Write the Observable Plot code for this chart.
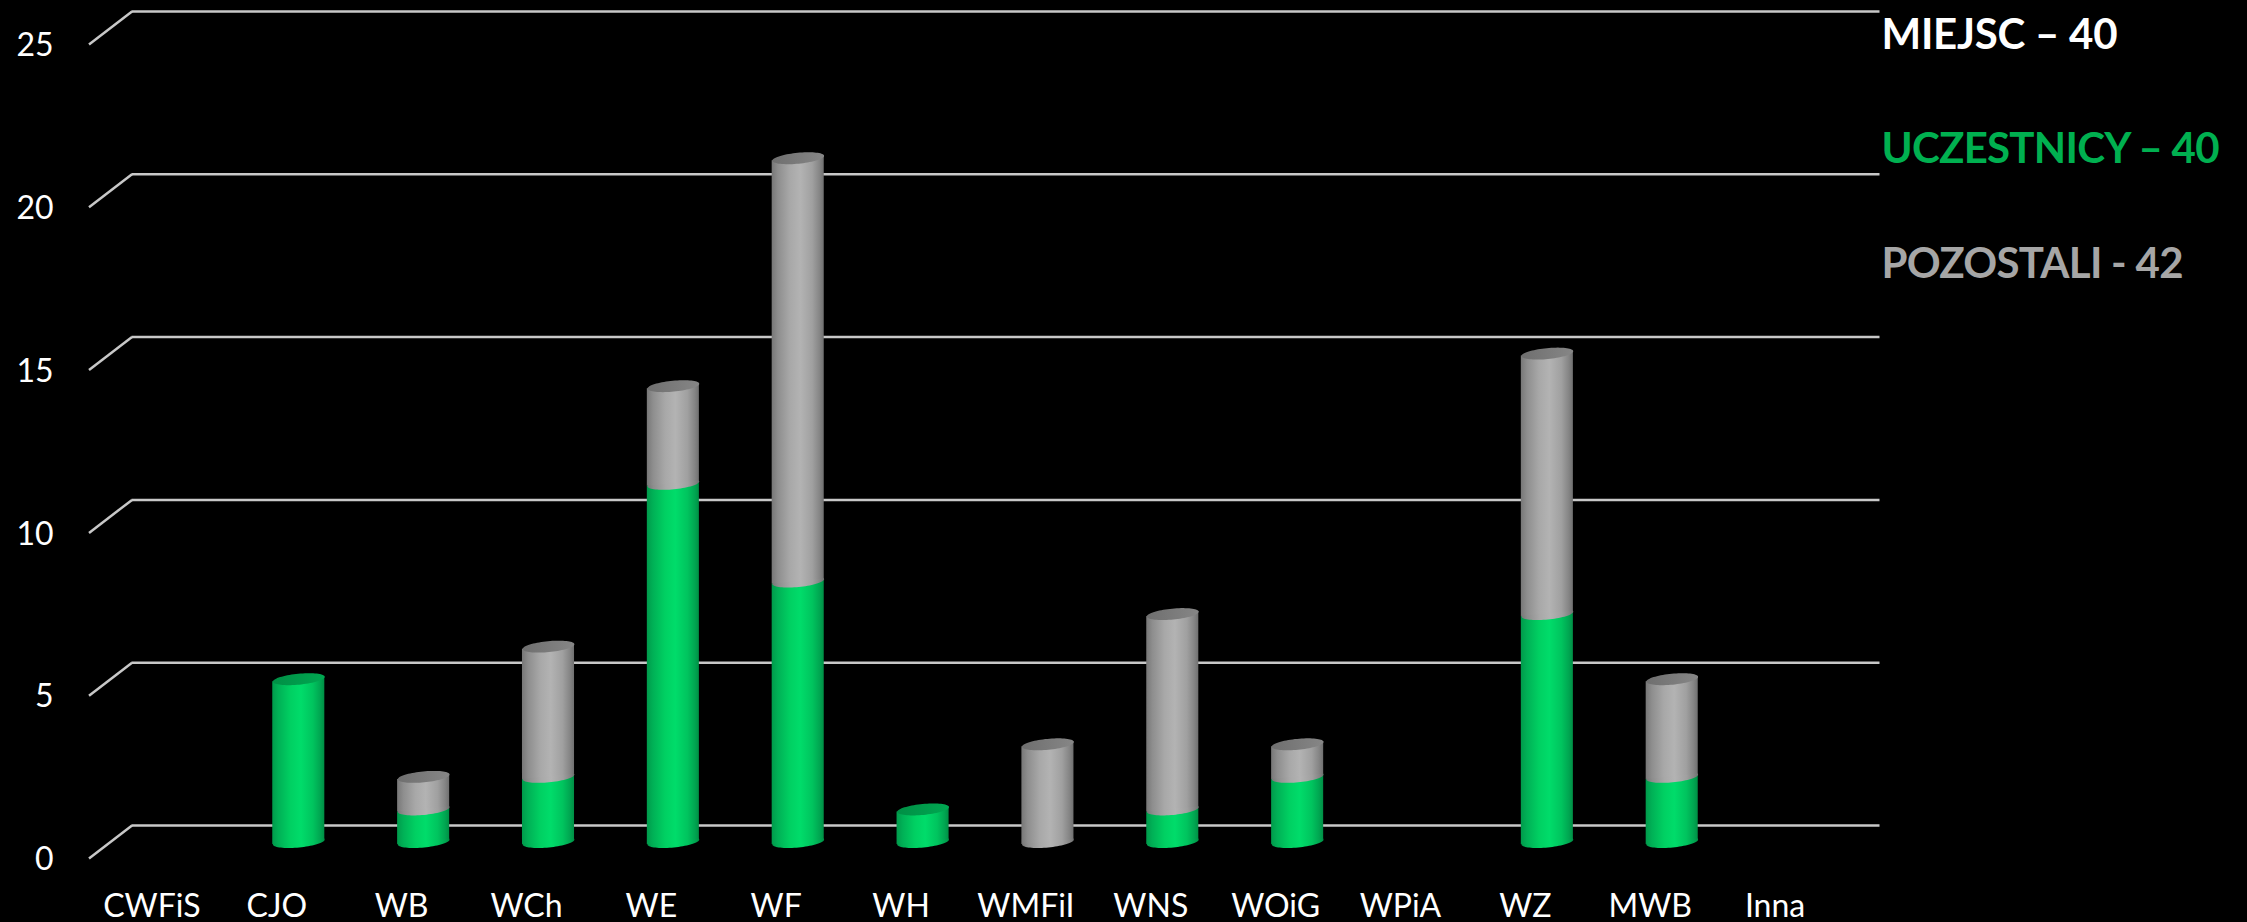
<!DOCTYPE html>
<html>
<head>
<meta charset="utf-8">
<script src="https://cdn.jsdelivr.net/npm/d3@7"></script>
<script src="https://cdn.jsdelivr.net/npm/@observablehq/plot@0.6"></script>
<style>
html,body{margin:0;padding:0;background:#000;overflow:hidden}
svg{display:block}
</style>
</head>
<body>
<div id="chart"></div>
<script>
const categories = ["CWFiS","CJO","WB","WCh","WE","WF","WH","WMFiI","WNS","WOiG","WPiA","WZ","MWB","Inna"];
const uczestnicy = [0,5,1,2,11,8,1,0,1,2,0,7,2,0];
const pozostali  = [0,0,1,4,3,13,0,3,6,1,0,8,3,0];
const yTicks = [0,5,10,15,20,25];
const legendLabels = ["MIEJSC – 40","UCZESTNICY – 40","POZOSTALI - 42"];
const legendColors = ["#ffffff","#00b050","#a6a6a6"];
const legendWidths = [236,338,302];
const FONT = "Lato, Carlito, 'Open Sans', sans-serif";

const rows = categories.map((c,i)=>({c, g:uczestnicy[i], o:pozostali[i], t:uczestnicy[i]+pozostali[i]}));
const greenRows = rows.filter(d=>d.g>0);
const greyRows = rows.filter(d=>d.o>0);
const topRows = rows.filter(d=>d.t>0);

const TILT = -5.5*Math.PI/180;
const DEPTH_X = 21.5, DEPTH_Y = 16.5;

// tilted ellipse for the cylinder faces
const ellipseSymbol = {
  draw(ctx, size){
    const rx = Math.sqrt(size/Math.PI), ry = rx*0.21, n = 72;
    for(let k=0;k<n;k++){
      const a = 2*Math.PI*k/n, ex = rx*Math.cos(a), ey = ry*Math.sin(a);
      const px = ex*Math.cos(TILT)-ey*Math.sin(TILT), py = ex*Math.sin(TILT)+ey*Math.cos(TILT);
      k ? ctx.lineTo(px,py) : ctx.moveTo(px,py);
    }
    ctx.closePath();
  }
};
// slanted side wall stroke of the 3D floor/wall grid
const sideSymbol = { draw(ctx){ ctx.moveTo(-DEPTH_X,DEPTH_Y); ctx.lineTo(DEPTH_X,-DEPTH_Y); } };

function gradientDefs(){
  const defs = d3.create("svg:defs");
  const add = (id, stops) => {
    const g = defs.append("linearGradient").attr("id",id).attr("x1",0).attr("x2",1).attr("y1",0).attr("y2",0);
    stops.forEach(([o,c])=>g.append("stop").attr("offset",o).attr("stop-color",c));
  };
  add("gGreen",[[0,"#009a4b"],[0.12,"#00b156"],[0.35,"#00d062"],[0.55,"#00dc6a"],[0.78,"#00c45e"],[0.92,"#00a651"],[1,"#008f45"]]);
  add("gGrey",[[0,"#777777"],[0.12,"#8e8e8e"],[0.35,"#a8a8a8"],[0.55,"#b3b3b3"],[0.78,"#a0a0a0"],[0.92,"#858585"],[1,"#707070"]]);
  add("capGreen",[[0,"#008f45"],[1,"#00a851"]]);
  add("capGrey",[[0,"#6f6f6f"],[1,"#868686"]]);
  return defs.node();
}

// lean each bar so its ends meet the tilted ellipses
function skewed(index, scales, values, dimensions, context, next){
  const g = next(index, scales, values, dimensions, context);
  d3.select(g).selectAll("rect")
    .style("transform-box","fill-box")
    .style("transform-origin","center")
    .style("transform",`skewY(${TILT}rad)`);
  return g;
}
const fitted = w => (index, scales, values, dimensions, context, next) => {
  const g = next(index, scales, values, dimensions, context);
  d3.select(g).selectAll("text").attr("textLength",w).attr("lengthAdjust","spacing");
  return g;
};

const segment = (data, y1, y2, fill) => [
  Plot.dot(data,{x:"c",y:y1,r:26,symbol:ellipseSymbol,fill}),
  Plot.barY(data,{x:"c",y1,y2,fill,insetLeft:36.4,insetRight:36.4,render:skewed})
];

const chart = Plot.plot({
  width:2247, height:922,
  marginLeft:111, marginRight:388, marginTop:27.5, marginBottom:80.5,
  style:{background:"#000",color:"#fff",fontFamily:FONT,overflow:"visible"},
  x:{type:"band",domain:categories,padding:0,round:false,label:null},
  y:{domain:[0,25],label:null},
  marks:[
    gradientDefs,
    Plot.ruleY(yTicks,{stroke:"#c8c8c8",strokeWidth:2.5,dx:DEPTH_X-1,dy:-DEPTH_Y}),
    Plot.dot(yTicks,{y:d=>d,frameAnchor:"left",dx:-1,r:10,symbol:sideSymbol,stroke:"#c8c8c8",strokeWidth:2.5,fill:"none"}),
    Plot.axisY(yTicks,{tickSize:0,tickPadding:58,dy:DEPTH_Y+1.5,label:null,fontSize:32,fill:"#fff"}),
    Plot.axisX({tickSize:0,tickPadding:52,dx:-DEPTH_X-0.5,label:null,fontSize:32,fill:"#fff"}),
    ...segment(greenRows,0,"g","url(#gGreen)"),
    ...segment(greyRows,"g","t","url(#gGrey)"),
    Plot.dot(topRows.filter(d=>d.o>0),{x:"c",y:"t",r:26,symbol:ellipseSymbol,fill:"url(#capGrey)"}),
    Plot.dot(topRows.filter(d=>d.o===0),{x:"c",y:"t",r:26,symbol:ellipseSymbol,fill:"url(#capGreen)"}),
    ...legendLabels.map((t,i)=>Plot.text([t],{
      frameAnchor:"top-left",textAnchor:"start",lineAnchor:"middle",
      dx:1770,dy:7.5+i*114.5,fontSize:42,fontWeight:700,fill:legendColors[i],render:fitted(legendWidths[i])
    }))
  ]
});
document.getElementById("chart").append(chart);
</script>
</body>
</html>
